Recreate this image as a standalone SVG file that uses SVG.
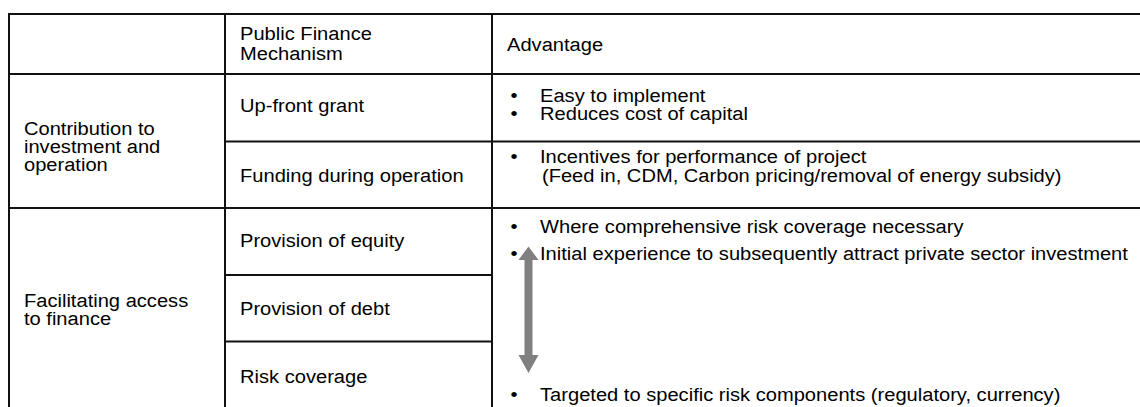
<svg xmlns="http://www.w3.org/2000/svg" width="1140" height="407" viewBox="0 0 1140 407">
<style>
.grid line{stroke:#111;stroke-width:2;}
text{font-family:"Liberation Sans",Arial,sans-serif;font-size:17.8px;fill:#000;}
.arrow{fill:#808080;}
</style>
<rect width="1140" height="407" fill="#fff"/>
<g class="grid" id="grid">
<line x1="9" y1="14" x2="1140" y2="14"/>
<line x1="9" y1="74" x2="1140" y2="74"/>
<line x1="225" y1="141.5" x2="1140" y2="141.5"/>
<line x1="9" y1="208" x2="1140" y2="208"/>
<line x1="225" y1="275" x2="492" y2="275"/>
<line x1="225" y1="341.5" x2="492" y2="341.5"/>
<line x1="9" y1="13" x2="9" y2="407"/>
<line x1="225" y1="13" x2="225" y2="407"/>
<line x1="492" y1="13" x2="492" y2="407"/>
</g>
<g transform="scale(1.13 1)">
<g id="hdr-mech"><text x="212.4" y="40.5">Public Finance</text><text x="212.4" y="60.5">Mechanism</text></g>
<g id="hdr-adv"><text x="448.7" y="51.5">Advantage</text></g>
<g id="cat-contrib"><text x="21.2" y="135.5">Contribution to</text><text x="21.2" y="153.5">investment and</text><text x="21.2" y="171.5">operation</text></g>
<g id="mech-grant"><text x="212.4" y="112.5">Up-front grant</text></g>
<g id="adv-grant"><text x="451.8" y="102.5">•</text><text x="477.9" y="102.5">Easy to implement</text><text x="451.8" y="120.5">•</text><text x="477.9" y="120.5">Reduces cost of capital</text></g>
<g id="mech-funding"><text x="212.4" y="182.5">Funding during operation</text></g>
<g id="adv-funding"><text x="451.8" y="163.5">•</text><text x="477.9" y="163.5">Incentives for performance of project</text><text x="479.6" y="182.5">(Feed in, CDM, Carbon pricing/removal of energy subsidy)</text></g>
<g id="cat-access"><text x="21.2" y="307.5">Facilitating access</text><text x="21.2" y="325.5">to finance</text></g>
<g id="mech-equity"><text x="212.4" y="247.5">Provision of equity</text></g>
<g id="mech-debt"><text x="212.4" y="315.5">Provision of debt</text></g>
<g id="mech-risk"><text x="212.4" y="383.5">Risk coverage</text></g>
<g id="adv-access"><text x="451.8" y="233.5">•</text><text x="477.9" y="233.5">Where comprehensive risk coverage necessary</text><text x="451.8" y="260.5">•</text><text x="477.9" y="260.5">Initial experience to subsequently attract private sector investment</text><text x="451.8" y="401">•</text><text x="477.9" y="401">Targeted to specific risk components (regulatory, currency)</text></g>
</g>
<g id="connectors">
<polygon class="arrow" points="528.5,246.5 538.5,260 532.5,260 532.5,355 538.5,355 528.5,373 518.5,355 524.5,355 524.5,260 518.5,260"/>
</g>
</svg>
